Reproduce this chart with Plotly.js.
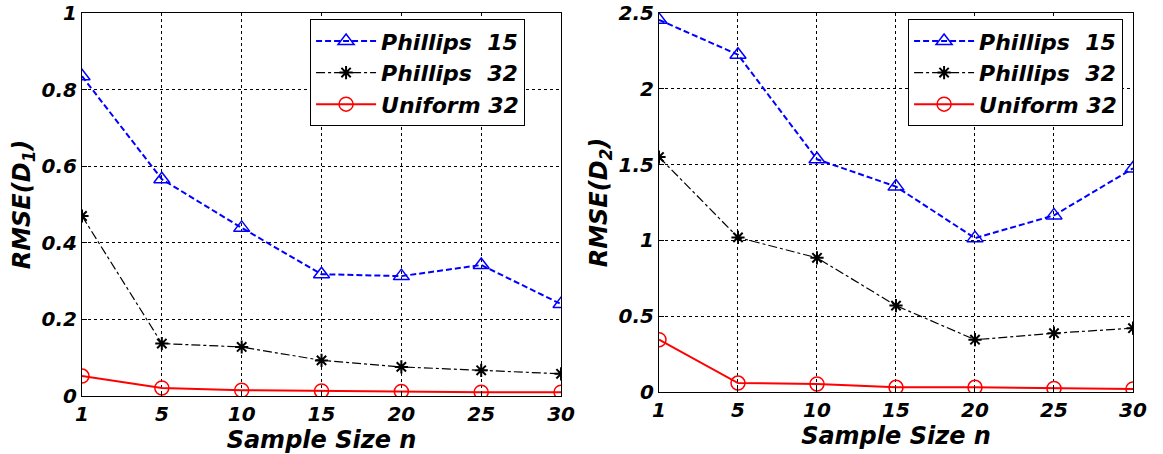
<!DOCTYPE html>
<html>
<head>
<meta charset="utf-8">
<script src="https://cdn.plot.ly/plotly-3.0.1.min.js"></script>
<style>html,body{margin:0;padding:0;background:#fff}#chart{width:1163px;height:454px}</style>
</head>
<body>
<div id="chart"></div>
<script>
const sampleSizes = ["1", "5", "10", "15", "20", "25", "30"];
const seriesNames = ["Phillips  15", "Phillips  32", "Uniform 32"];
// Left panel: RMSE(D1)
const d1Phillips15 = [0.835, 0.566, 0.439, 0.318, 0.313, 0.342, 0.240];
const d1Phillips32 = [0.470, 0.137, 0.128, 0.093, 0.076, 0.067, 0.058];
const d1Uniform32  = [0.052, 0.021, 0.015, 0.013, 0.012, 0.010, 0.010];
// Right panel: RMSE(D2)
const d2Phillips15 = [2.455, 2.225, 1.535, 1.355, 1.015, 1.165, 1.475];
const d2Phillips32 = [1.550, 1.020, 0.885, 0.570, 0.345, 0.388, 0.421];
const d2Uniform32  = [0.345, 0.059, 0.053, 0.031, 0.031, 0.024, 0.020];

const FONT = "DejaVu Sans, Arial, sans-serif";
const styles = [
  {line: {color: "#0000ff", width: 2, dash: "6px,3px"}, marker: {symbol: "triangle-up-open", size: 14, color: "#0000ff", line: {width: 1.5, color: "#0000ff"}}},
  {line: {color: "#000000", width: 1.2, dash: "dashdot"}, marker: {symbol: "asterisk-open", size: 11, color: "#000000", line: {width: 2, color: "#000000"}}},
  {line: {color: "#ff0000", width: 2}, marker: {symbol: "circle-open", size: 14, color: "#ff0000", line: {width: 1.5, color: "#ff0000"}}}
];
function mk(y, i, xa, ya, leg) {
  return {x: sampleSizes, y: y, name: seriesNames[i], type: "scatter", mode: "lines+markers",
    xaxis: xa, yaxis: ya, legend: leg, line: styles[i].line, marker: styles[i].marker};
}
const traces = [
  mk(d1Phillips15, 0, "x", "y", "legend"),
  mk(d1Phillips32, 1, "x", "y", "legend"),
  mk(d1Uniform32, 2, "x", "y", "legend"),
  mk(d2Phillips15, 0, "x2", "y2", "legend2"),
  mk(d2Phillips32, 1, "x2", "y2", "legend2"),
  mk(d2Uniform32, 2, "x2", "y2", "legend2")
];
const tickFont = {family: FONT, size: 20, color: "#000", weight: "bold", style: "italic"};
const titleFont = {family: FONT, size: 24, color: "#000", weight: "bold", style: "italic"};
function xax(domain, anchor) {
  return {domain: domain, anchor: anchor, type: "category", range: [0, 6], showline: true, mirror: true,
    linecolor: "#000", linewidth: 1, showgrid: true, gridcolor: "#000", griddash: "3px,3px", gridwidth: 1,
    ticks: "inside", ticklen: 5, tickcolor: "#000", tickfont: tickFont, zeroline: false,
    title: {text: "Sample Size n", font: titleFont, standoff: 0}};
}
function yax(domain, anchor, range, dtick, title) {
  return {domain: domain, anchor: anchor, range: range, dtick: dtick, showline: true, mirror: true,
    linecolor: "#000", linewidth: 1, showgrid: true, gridcolor: "#000", griddash: "3px,3px", gridwidth: 1,
    ticks: "inside", ticklen: 5, tickcolor: "#000", tickfont: tickFont, zeroline: false,
    title: {text: title, font: titleFont, standoff: 4}};
}
const legFont = {family: FONT, size: 22, color: "#000", weight: "bold", style: "italic"};
const layout = {
  width: 1163, height: 454,
  margin: {l: 82, r: 30, t: 13, b: 58},
  paper_bgcolor: "#fff", plot_bgcolor: "#fff",
  showlegend: true,
  xaxis: xax([0, 0.4558], "y"),
  yaxis: yax([0, 1], "x", [0, 1], 0.2, "RMSE(D<sub>1</sub>)"),
  xaxis2: xax([0.549, 1], "y2"),
  yaxis2: yax([0.0104, 1], "x2", [0, 2.5], 0.5, "RMSE(D<sub>2</sub>)"),
  legend: {x: 0.217, y: 0.984, xanchor: "left", yanchor: "top", bgcolor: "#fff",
    bordercolor: "#000", borderwidth: 1, font: legFont, itemwidth: 60, tracegroupgap: 0},
  legend2: {x: 0.786, y: 0.984, xanchor: "left", yanchor: "top", bgcolor: "#fff",
    bordercolor: "#000", borderwidth: 1, font: legFont, itemwidth: 60, tracegroupgap: 0}
};
Plotly.newPlot("chart", traces, layout, {displayModeBar: false, staticPlot: true});
</script>
</body>
</html>
